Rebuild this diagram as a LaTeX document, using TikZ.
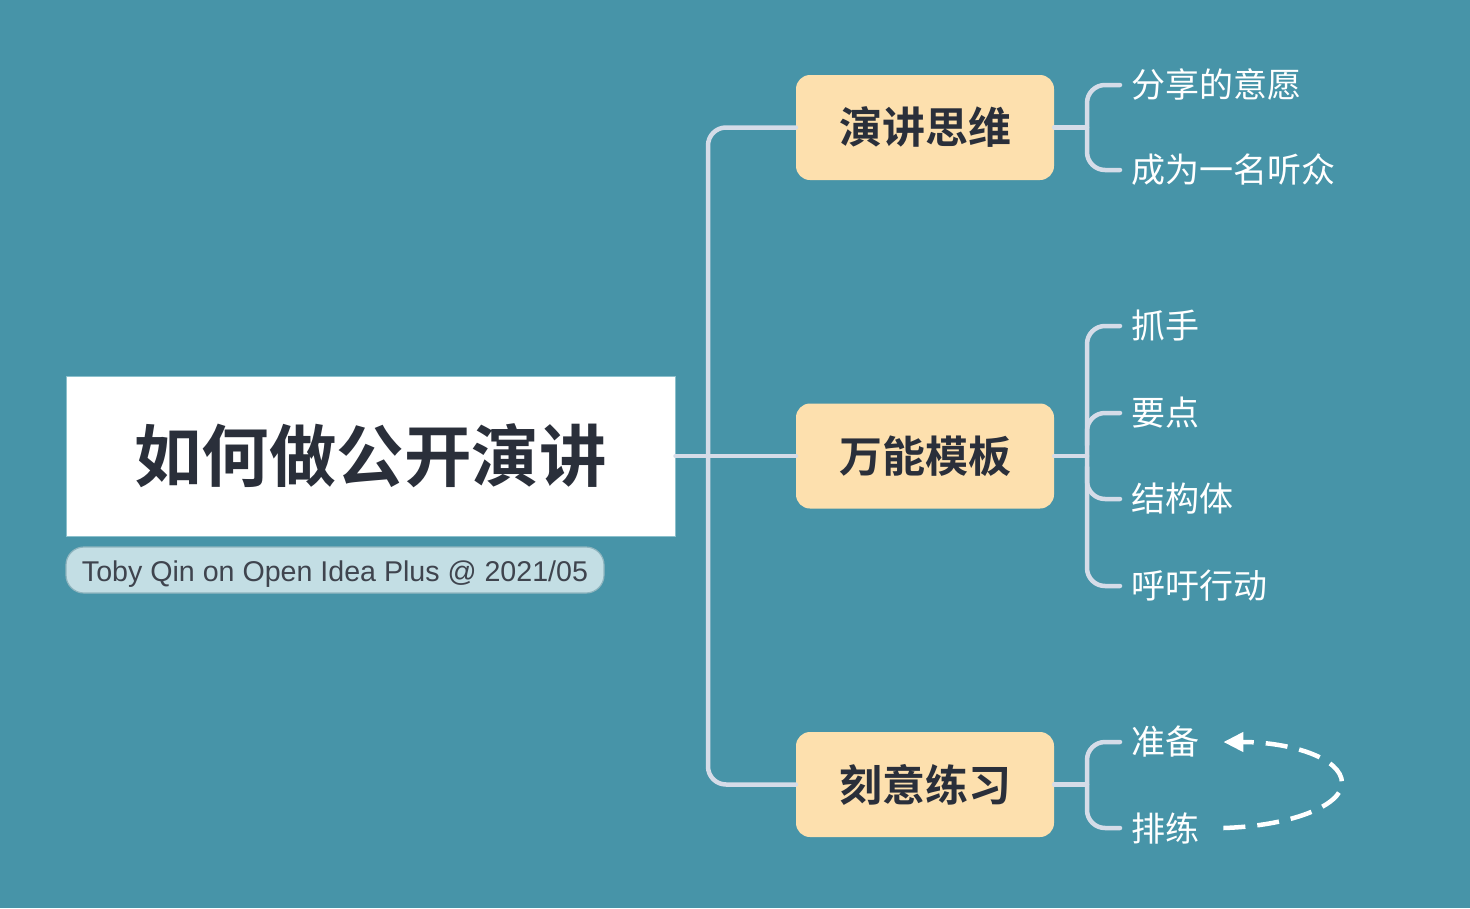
\documentclass[tikz,border=0pt]{standalone}
\usepackage{fontspec}
\setmainfont{Liberation Sans}
\newfontfamily\cjk{Noto Sans CJK SC}
\newfontfamily\cjkb{Noto Sans CJK SC Bold}
\usetikzlibrary{calc,arrows.meta}
\definecolor{bgteal}{HTML}{4794A8}
\definecolor{conn}{HTML}{D5DCE8}
\definecolor{boxfill}{HTML}{FDE0AE}
\definecolor{titletext}{HTML}{2A2F3A}
\definecolor{capfill}{HTML}{C3DEE4}
\definecolor{capdraw}{HTML}{8FB5BF}
\definecolor{rootdraw}{HTML}{8CC0CC}
\begin{document}
\begin{tikzpicture}[x=1pt,y=-1pt,
  rootbox/.style={fill=white, draw=rootdraw, line width=1pt, minimum width=609pt, minimum height=160pt, inner sep=0pt,
    font=\cjkb\fontsize{67.5}{70}\selectfont, text=titletext},
  capbox/.style={fill=capfill, draw=capdraw, line width=1.2pt, rounded corners=18pt,
    minimum width=538pt, minimum height=46pt, inner sep=0pt,
    font=\fontsize{28.6}{30}\selectfont, text=titletext!90},
  captext/.style={inner sep=0pt, font=\fontsize{28.6}{30}\selectfont, text=titletext!90},
  branchbox/.style={fill=boxfill, rounded corners=14pt, minimum width=258pt,
    minimum height=105pt, inner sep=0pt, font=\cjkb\fontsize{43}{46}\selectfont, text=titletext},
  leaf/.style={anchor=west, inner sep=0pt, text=white, font=\cjk\fontsize{34}{36}\selectfont},
  link/.style={draw=conn, line width=4.5pt, rounded corners=18pt, line cap=round},
  loop/.style={draw=white, line width=4.5pt, dash pattern=on 22pt off 12pt,
    -{Triangle[length=20pt,width=19pt]}}
]
\useasboundingbox[fill=bgteal] (0,0) rectangle (1470,908);

\node[rootbox] (root) at (370.5,456) {如何做公开演讲};
\node[capbox] (cap) at (335,570) {};
\node[captext, anchor=base] (captxt) at (335,581) {Toby Qin on Open Idea Plus @ 2021/05};

\node[branchbox] (b1) at (925,127.5) {演讲思维};
\node[branchbox] (b2) at (925,456) {万能模板};
\node[branchbox] (b3) at (925,784.5) {刻意练习};

\node[leaf] (l11) at (1131,85) {分享的意愿};
\node[leaf] (l12) at (1131,170) {成为一名听众};
\node[leaf] (l21) at (1131,326) {抓手};
\node[leaf] (l22) at (1131,413) {要点};
\node[leaf] (l23) at (1131,499) {结构体};
\node[leaf] (l24) at (1131,586) {呼吁行动};
\node[leaf] (l31) at (1131,742) {准备};
\node[leaf] (l32) at (1131,828) {排练};

% trunk
\coordinate (trunktop) at (708,127.5);
\coordinate (trunkbot) at (708,784.5);
\draw[link, rounded corners=0pt] (root.east) -- (b2.west);
\draw[link] (b1.west) -- (trunktop) -- (trunkbot) -- (b3.west);

% bracket 1
\coordinate (k1) at (1087,127.5);
\draw[link, rounded corners=0pt] (b1.east) -- (k1);
\draw[link] ($(l11.west)+(-11,0)$) -- (1087,85) -- (1087,170) -- ($(l12.west)+(-11,0)$);

% bracket 2
\coordinate (k2) at (1087,456);
\draw[link, rounded corners=0pt] (b2.east) -- (k2);
\draw[link] ($(l21.west)+(-11,0)$) -- (1087,326) -- (1087,586) -- ($(l24.west)+(-11,0)$);
\draw[link] (1087,445) -- (1087,413) -- ($(l22.west)+(-11,0)$);
\draw[link] (1087,467) -- (1087,499) -- ($(l23.west)+(-11,0)$);

% bracket 3
\coordinate (k3) at (1087,784.5);
\draw[link, rounded corners=0pt] (b3.east) -- (k3);
\draw[link] ($(l31.west)+(-11,0)$) -- (1087,742) -- (1087,828) -- ($(l32.west)+(-11,0)$);

% loop arrow
\coordinate (lpa) at ($(l32.east)+(24,0)$);
\coordinate (lpm) at (1342,783);
\coordinate (lpb) at ($(l31.east)+(24,0)$);
\draw[loop] (lpa) .. controls (1290,826) and (1342,806) .. (lpm)
  .. controls (1342,758) and (1290,742) .. (lpb);
\end{tikzpicture}
\end{document}
